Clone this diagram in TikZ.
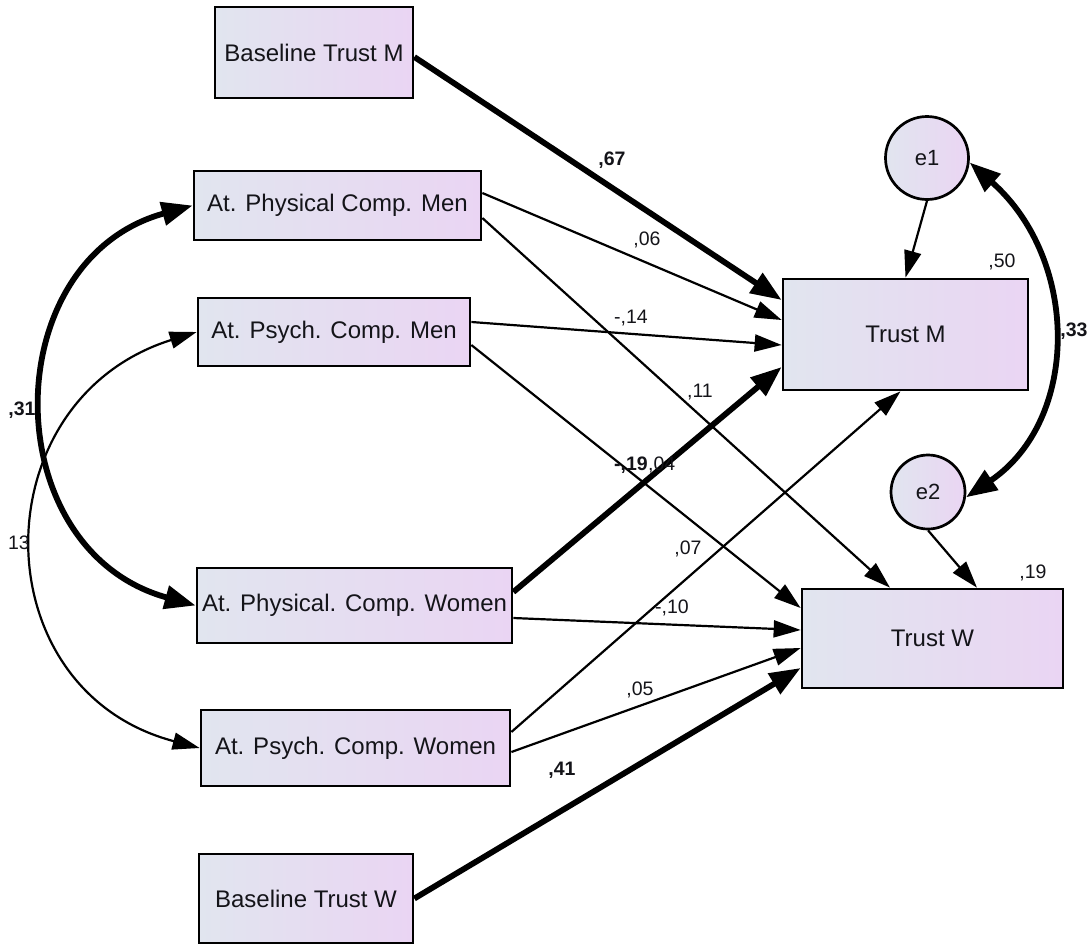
\documentclass[tikz,border=0pt]{standalone}
\usepackage{fontspec}
\setmainfont{Liberation Sans}
\usetikzlibrary{arrows.meta,calc}
\definecolor{boxl}{RGB}{225,229,239}
\definecolor{boxr}{RGB}{234,213,243}
\definecolor{ink}{RGB}{20,20,25}
\begin{document}
\begin{tikzpicture}[x=1pt,y=-1pt,
  box/.style={draw=black, line width=2.7pt, left color=boxl, right color=boxr, inner sep=0pt,
    text=ink, font=\fontsize{24}{28}\selectfont},
  err/.style={circle, draw=black, line width=2.7pt, left color=boxl, right color=boxr, inner sep=0pt,
    text=ink, font=\fontsize{22}{26}\selectfont},
  lab/.style={inner sep=0pt, text=ink, font=\fontsize{19.5}{23}\selectfont},
  thinarr/.style={line width=2.2pt, -{Triangle[length=27pt,width=17pt]}},
  thickarr/.style={line width=5.8pt, -{Triangle[length=31pt,width=23pt]}},
  thinbi/.style={line width=2.2pt, {Triangle[length=27pt,width=17pt]}-{Triangle[length=27pt,width=17pt]}},
  thickbi/.style={line width=5.8pt, {Triangle[length=31pt,width=23pt]}-{Triangle[length=31pt,width=23pt]}}
]
\useasboundingbox (0,0) rectangle (1089,945);

% boxes
\node[box, minimum width=198pt, minimum height=91pt] (btm) at (314,52.5) {Baseline Trust M};
\node[box, minimum width=287pt, minimum height=69pt] (pcm) at (337.5,205.5) {At. Physical Comp. Men};
\node[box, minimum width=272pt, minimum height=68pt] (scm) at (334,332) {At. Psych. Comp. Men};
\node[box, minimum width=315pt, minimum height=75pt] (pcw) at (354.5,605.5) {At. Physical. Comp. Women};
\node[box, minimum width=309pt, minimum height=76pt] (scw) at (355.5,748) {At. Psych. Comp. Women};
\node[box, minimum width=214pt, minimum height=89pt] (btw) at (306,898.5) {Baseline Trust W};
\node[box, minimum width=245pt, minimum height=111pt] (tm) at (905.5,334.5) {Trust M};
\node[box, minimum width=261pt, minimum height=99pt] (tw) at (932.5,638.5) {Trust W};
\node[err, minimum size=83pt] (e1) at (927,158) {e1};
\node[err, minimum size=74pt] (e2) at (928,492) {e2};

% paths
\draw[thickarr] ([yshift=-4.5pt]btm.east) -- ([yshift=34.5pt]tm.west);
\draw[thinarr] ([yshift=12.5pt]pcm.east) -- ([yshift=14.5pt]tm.west);
\draw[thinarr] ([yshift=-12.5pt]pcm.east) -- ([xshift=-42.5pt]tw.north);
\draw[thinarr] ([yshift=10pt]scm.east) -- ([yshift=-10.5pt]tm.west);
\draw[thinarr] ([yshift=-13pt]scm.east) -- ([yshift=30.5pt]tw.west);
\draw[thickarr] ([yshift=13.5pt]pcw.east) -- ([yshift=-32.5pt]tm.west);
\draw[thinarr] ([yshift=-12.5pt]pcw.east) -- ([yshift=8.5pt]tw.west);
\draw[thinarr] ([yshift=16pt]scw.east) -- ([xshift=-5pt]tm.south);
\draw[thinarr] ([yshift=-4pt]scw.east) -- ([yshift=-9.5pt]tw.west);
\draw[thickarr] (btw.east) -- ([yshift=-29.5pt]tw.west);
\draw[thinarr] (e1.south) -- (tm.north);
\draw[thinarr] (e2.south) -- ([xshift=44.5pt]tw.north);

% covariances
\draw[thickbi] (pcm.west) .. controls (-5,260) and (-5,550) .. (pcw.west);
\draw[thinbi] (scm.west) .. controls (-20,400) and (-20,690) .. (scw.west);
\draw[thickbi] (e1.-6) .. controls (1080,260) and (1080,420) .. (e2.-8);

% labels
\node[lab] (l67) at (612,160) {\textbf{,67}};
\node[lab] (l06) at (647,240) {,06};
\node[lab] (l14) at (631,318) {-,14};
\node[lab] (l11) at (700,392) {,11};
\node[lab, anchor=east] (l19a) at (648,465) {\textbf{-,19}};
\node[lab, anchor=west] (l04) at (648,465) {,04};
\node[lab] (l07) at (688,549) {,07};
\node[lab] (l10) at (672,608) {-,10};
\node[lab] (l05) at (640,690) {,05};
\node[lab] (l41) at (562,770) {\textbf{,41}};
\node[lab] (l31) at (22,410) {\textbf{,31}};
\node[lab] (l13) at (19,543) {13};
\node[lab] (l33) at (1074,331) {\textbf{,33}};
\node[lab] (l50) at (1002,262) {,50};
\node[lab] (l19b) at (1033,573) {,19};
\end{tikzpicture}
\end{document}
